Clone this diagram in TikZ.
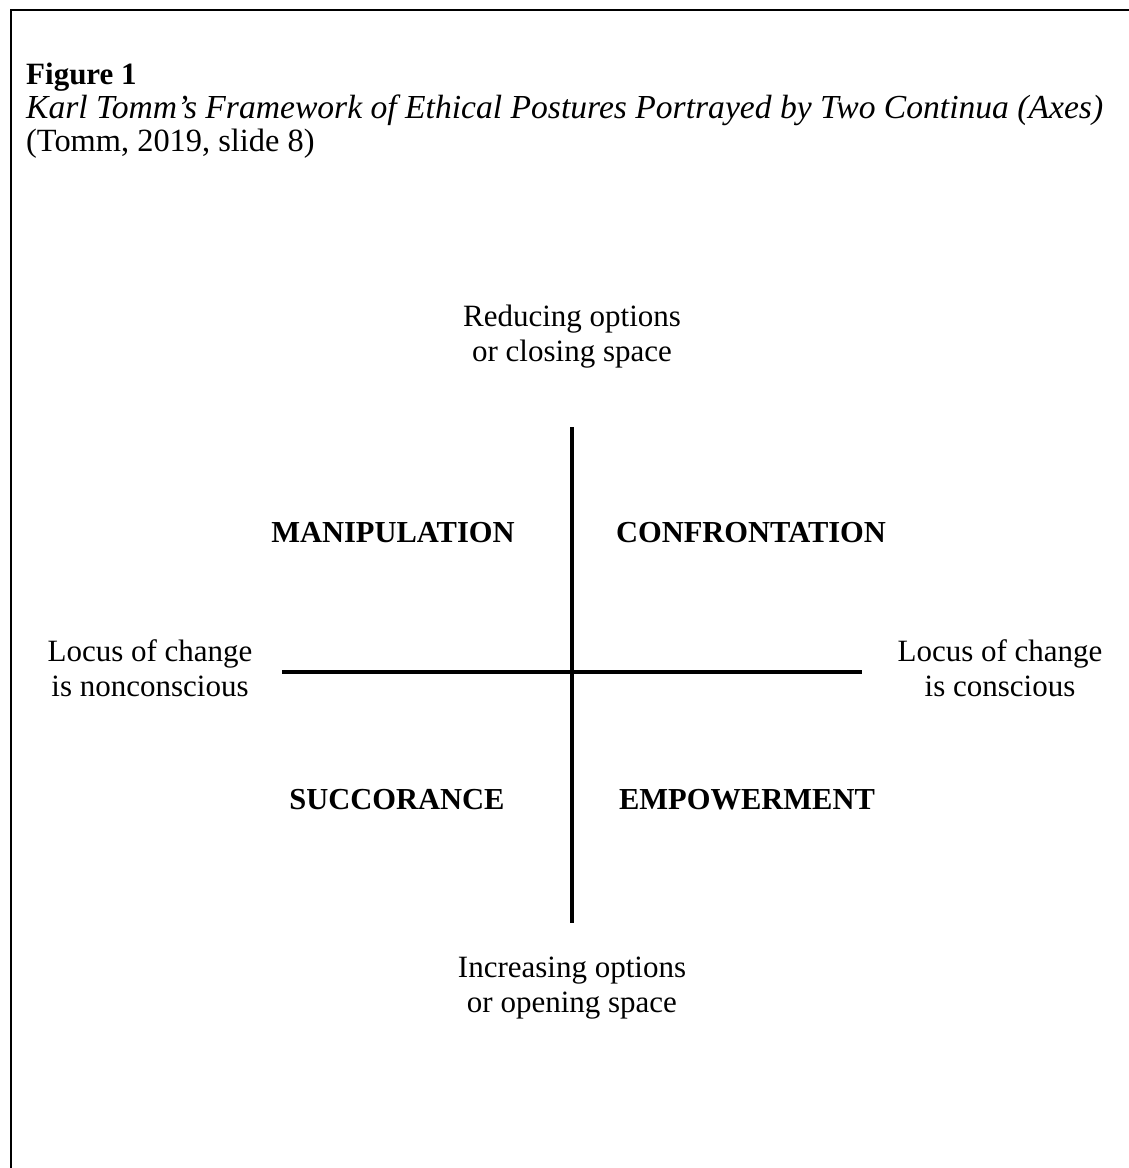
\documentclass[tikz,border=0pt]{standalone}
\usepackage{fontspec}
\setmainfont{Liberation Serif}
\usepackage{tikz}
\usetikzlibrary{positioning}

\begin{document}
\begin{tikzpicture}[x=1pt,y=-1pt,
    captxt/.style={font=\fontsize{32.4}{34}\selectfont, inner sep=0pt, anchor=base west},
    pole/.style={font=\fontsize{31}{35}\selectfont, inner sep=0pt, align=center},
    posture/.style={font=\fontsize{30.5}{34}\selectfont\bfseries, inner sep=0pt},
    axis/.style={line width=4.5pt}]
  \useasboundingbox (0,0) rectangle (1128,1168);
  % frame (only top and left edge on the page)
  \draw[line width=2pt] (11,1170) -- (11,10) -- (1130,10);
  % caption
  \node[captxt, font=\fontsize{31}{34}\selectfont\bfseries] (fig) at (26,84) {Figure 1};
  \node[captxt, font=\fontsize{33.6}{34}\selectfont\itshape] (title) at (26,118) {Karl Tomm’s Framework of Ethical Postures Portrayed by Two Continua (Axes)};
  \node[captxt] (src) at (26,151) {(Tomm, 2019, slide 8)};
  % ends of the two axes
  \coordinate (top) at (572,427);
  \coordinate (bottom) at (572,923);
  \coordinate (left) at (282,672);
  \coordinate (right) at (862,672);
  \draw[axis] (top) -- (bottom);
  \draw[axis] (left) -- (right);
  % poles
  \node[pole] (reduce) at (572,337) {Reducing options\\or closing space};
  \node[pole] (increase) at (572,988) {Increasing options\\or opening space};
  \node[pole] (noncon) at (150,668) {Locus of change\\is nonconscious};
  \node[pole] (con) at (1000,668) {Locus of change\\is conscious};
  % quadrants
  \node[posture] (manip) at (393,533) {MANIPULATION};
  \node[posture] (confr) at (751,533) {CONFRONTATION};
  \node[posture] (succ) at (397,800) {SUCCORANCE};
  \node[posture] (empow) at (747,800) {EMPOWERMENT};
\end{tikzpicture}
\end{document}
